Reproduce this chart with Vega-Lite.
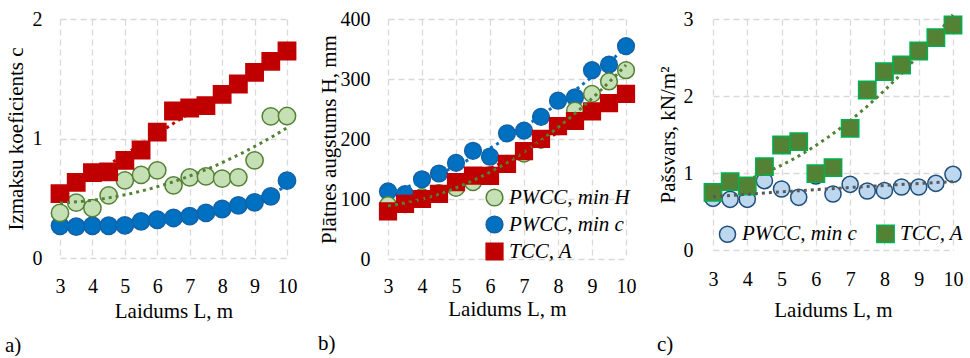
{
 "$schema": "https://vega.github.io/schema/vega-lite/v6.json",
 "padding": {"left": 5, "top": 8, "right": 0, "bottom": 0},
 "config": {
  "font": "Liberation Serif",
  "view": {"stroke": null},
  "axis": {"labelFont": "Liberation Serif", "titleFont": "Liberation Serif", "labelFontSize": 20, "titleFontSize": 21, "labelColor": "#000", "titleColor": "#000", "titleFontWeight": "normal", "gridColor": "#D9D9D9", "gridDash": [6, 4], "gridWidth": 1.3, "domain": false, "ticks": false, "labelOverlap": false, "labelFlush": false, "format": "d"},
  "legend": {"labelFont": "Liberation Serif", "labelFontStyle": "italic", "labelFontSize": 21, "labelColor": "#000", "labelOffset": 4, "rowPadding": 4, "padding": 0, "symbolStrokeWidth": 1.5, "labelLimit": 300},
  "title": {"font": "Liberation Serif", "fontSize": 21, "fontWeight": "normal", "color": "#000"},
  "concat": {"spacing": 19}
 },
 "resolve": {"scale": {"x": "independent", "y": "independent", "fill": "independent", "stroke": "independent", "shape": "independent", "size": "independent", "color": "independent"}, "legend": {"fill": "independent", "stroke": "independent", "shape": "independent", "size": "independent", "color": "independent"}},
 "datasets": {
  "a": [
   {"L": 3, "s": "PWCC, min c", "v": 0.27}, {"L": 3.5, "s": "PWCC, min c", "v": 0.262}, {"L": 4, "s": "PWCC, min c", "v": 0.27}, {"L": 4.5, "s": "PWCC, min c", "v": 0.27}, {"L": 5, "s": "PWCC, min c", "v": 0.273}, {"L": 5.5, "s": "PWCC, min c", "v": 0.307}, {"L": 6, "s": "PWCC, min c", "v": 0.32}, {"L": 6.5, "s": "PWCC, min c", "v": 0.335}, {"L": 7, "s": "PWCC, min c", "v": 0.351}, {"L": 7.5, "s": "PWCC, min c", "v": 0.377}, {"L": 8, "s": "PWCC, min c", "v": 0.41}, {"L": 8.5, "s": "PWCC, min c", "v": 0.44}, {"L": 9, "s": "PWCC, min c", "v": 0.466}, {"L": 9.5, "s": "PWCC, min c", "v": 0.516}, {"L": 10, "s": "PWCC, min c", "v": 0.647},
   {"L": 3, "s": "PWCC, min H", "v": 0.377}, {"L": 3.5, "s": "PWCC, min H", "v": 0.463}, {"L": 4, "s": "PWCC, min H", "v": 0.418}, {"L": 4.5, "s": "PWCC, min H", "v": 0.524}, {"L": 5, "s": "PWCC, min H", "v": 0.65}, {"L": 5.5, "s": "PWCC, min H", "v": 0.695}, {"L": 6, "s": "PWCC, min H", "v": 0.734}, {"L": 6.5, "s": "PWCC, min H", "v": 0.608}, {"L": 7, "s": "PWCC, min H", "v": 0.675}, {"L": 7.5, "s": "PWCC, min H", "v": 0.683}, {"L": 8, "s": "PWCC, min H", "v": 0.664}, {"L": 8.5, "s": "PWCC, min H", "v": 0.675}, {"L": 9, "s": "PWCC, min H", "v": 0.817}, {"L": 9.5, "s": "PWCC, min H", "v": 1.185}, {"L": 10, "s": "PWCC, min H", "v": 1.188},
   {"L": 3, "s": "TCC, A", "v": 0.538}, {"L": 3.5, "s": "TCC, A", "v": 0.633}, {"L": 4, "s": "TCC, A", "v": 0.714}, {"L": 4.5, "s": "TCC, A", "v": 0.72}, {"L": 5, "s": "TCC, A", "v": 0.817}, {"L": 5.5, "s": "TCC, A", "v": 0.904}, {"L": 6, "s": "TCC, A", "v": 1.054}, {"L": 6.5, "s": "TCC, A", "v": 1.23}, {"L": 7, "s": "TCC, A", "v": 1.255}, {"L": 7.5, "s": "TCC, A", "v": 1.275}, {"L": 8, "s": "TCC, A", "v": 1.37}, {"L": 8.5, "s": "TCC, A", "v": 1.456}, {"L": 9, "s": "TCC, A", "v": 1.554}, {"L": 9.5, "s": "TCC, A", "v": 1.646}, {"L": 10, "s": "TCC, A", "v": 1.732}
  ],
  "b": [
   {"L": 3, "s": "PWCC, min c", "v": 112.7}, {"L": 3.5, "s": "PWCC, min c", "v": 108}, {"L": 4, "s": "PWCC, min c", "v": 132.8}, {"L": 4.5, "s": "PWCC, min c", "v": 142.5}, {"L": 5, "s": "PWCC, min c", "v": 160.2}, {"L": 5.5, "s": "PWCC, min c", "v": 180.3}, {"L": 6, "s": "PWCC, min c", "v": 170.5}, {"L": 6.5, "s": "PWCC, min c", "v": 209.4}, {"L": 7, "s": "PWCC, min c", "v": 214}, {"L": 7.5, "s": "PWCC, min c", "v": 236.9}, {"L": 8, "s": "PWCC, min c", "v": 263.8}, {"L": 8.5, "s": "PWCC, min c", "v": 269.5}, {"L": 9, "s": "PWCC, min c", "v": 314.7}, {"L": 9.5, "s": "PWCC, min c", "v": 323.9}, {"L": 10, "s": "PWCC, min c", "v": 354.8},
   {"L": 3, "s": "PWCC, min H", "v": 89.8}, {"L": 3.5, "s": "PWCC, min H", "v": 91.6}, {"L": 4, "s": "PWCC, min H", "v": 103}, {"L": 4.5, "s": "PWCC, min H", "v": 110}, {"L": 5, "s": "PWCC, min H", "v": 118.5}, {"L": 5.5, "s": "PWCC, min H", "v": 128.2}, {"L": 6, "s": "PWCC, min H", "v": 140}, {"L": 6.5, "s": "PWCC, min H", "v": 158.5}, {"L": 7, "s": "PWCC, min H", "v": 175.7}, {"L": 7.5, "s": "PWCC, min H", "v": 198.6}, {"L": 8, "s": "PWCC, min H", "v": 221.5}, {"L": 8.5, "s": "PWCC, min H", "v": 247.2}, {"L": 9, "s": "PWCC, min H", "v": 275.2}, {"L": 9.5, "s": "PWCC, min H", "v": 295.9}, {"L": 10, "s": "PWCC, min H", "v": 314.7},
   {"L": 3, "s": "TCC, A", "v": 79.5}, {"L": 3.5, "s": "TCC, A", "v": 92}, {"L": 4, "s": "TCC, A", "v": 100}, {"L": 4.5, "s": "TCC, A", "v": 108.7}, {"L": 5, "s": "TCC, A", "v": 128.2}, {"L": 5.5, "s": "TCC, A", "v": 139}, {"L": 6, "s": "TCC, A", "v": 138.5}, {"L": 6.5, "s": "TCC, A", "v": 158.5}, {"L": 7, "s": "TCC, A", "v": 179.7}, {"L": 7.5, "s": "TCC, A", "v": 200.3}, {"L": 8, "s": "TCC, A", "v": 221.5}, {"L": 8.5, "s": "TCC, A", "v": 230}, {"L": 9, "s": "TCC, A", "v": 246}, {"L": 9.5, "s": "TCC, A", "v": 259.8}, {"L": 10, "s": "TCC, A", "v": 275.2}
  ],
  "c": [
   {"L": 3, "s": "PWCC, min c", "v": 0.671}, {"L": 3.5, "s": "PWCC, min c", "v": 0.658}, {"L": 4, "s": "PWCC, min c", "v": 0.658}, {"L": 4.5, "s": "PWCC, min c", "v": 0.9}, {"L": 5, "s": "PWCC, min c", "v": 0.792}, {"L": 5.5, "s": "PWCC, min c", "v": 0.684}, {"L": 6, "s": "PWCC, min c", "v": 0.961}, {"L": 6.5, "s": "PWCC, min c", "v": 0.727}, {"L": 7, "s": "PWCC, min c", "v": 0.853}, {"L": 7.5, "s": "PWCC, min c", "v": 0.766}, {"L": 8, "s": "PWCC, min c", "v": 0.771}, {"L": 8.5, "s": "PWCC, min c", "v": 0.818}, {"L": 9, "s": "PWCC, min c", "v": 0.818}, {"L": 9.5, "s": "PWCC, min c", "v": 0.866}, {"L": 10, "s": "PWCC, min c", "v": 0.983},
   {"L": 3, "s": "TCC, A", "v": 0.749}, {"L": 3.5, "s": "TCC, A", "v": 0.887}, {"L": 4, "s": "TCC, A", "v": 0.831}, {"L": 4.5, "s": "TCC, A", "v": 1.082}, {"L": 5, "s": "TCC, A", "v": 1.364}, {"L": 5.5, "s": "TCC, A", "v": 1.407}, {"L": 6, "s": "TCC, A", "v": 0.991}, {"L": 6.5, "s": "TCC, A", "v": 1.069}, {"L": 7, "s": "TCC, A", "v": 1.58}, {"L": 7.5, "s": "TCC, A", "v": 2.078}, {"L": 8, "s": "TCC, A", "v": 2.316}, {"L": 8.5, "s": "TCC, A", "v": 2.403}, {"L": 9, "s": "TCC, A", "v": 2.584}, {"L": 9.5, "s": "TCC, A", "v": 2.758}, {"L": 10, "s": "TCC, A", "v": 2.922}
  ]
 },
 "hconcat": [
  {
   "width": 227, "height": 239,
   "title": {"text": "a)", "orient": "bottom", "anchor": "start", "frame": "bounds", "offset": 14},
   "data": {"name": "a"},
   "layer": [
    {
     "mark": {"type": "point", "filled": true, "opacity": 1, "strokeWidth": 1.5},
     "encoding": {
      "x": {"field": "L", "type": "quantitative", "scale": {"domain": [3, 10], "nice": false}, "axis": {"values": [3, 4, 5, 6, 7, 8, 9, 10], "title": "Laidums L, m", "labelPadding": 18, "titlePadding": 4, "labelOverlap": false}},
      "y": {"field": "v", "type": "quantitative", "scale": {"domain": [0, 2], "nice": false}, "axis": {"values": [0, 1, 2], "title": "Izmaksu koeficients c", "labelPadding": 18, "titlePadding": 6}},
      "shape": {"field": "s", "type": "nominal", "scale": {"domain": ["PWCC, min H", "PWCC, min c", "TCC, A"], "range": ["circle", "circle", "square"]}, "legend": null},
      "fill": {"field": "s", "type": "nominal", "scale": {"domain": ["PWCC, min H", "PWCC, min c", "TCC, A"], "range": ["#C5E0B4", "#0070C0", "#C00000"]}, "legend": null},
      "stroke": {"field": "s", "type": "nominal", "scale": {"domain": ["PWCC, min H", "PWCC, min c", "TCC, A"], "range": ["#548235", "#1361A8", "#C00000"]}, "legend": null},
      "size": {"field": "s", "type": "nominal", "scale": {"domain": ["PWCC, min H", "PWCC, min c", "TCC, A"], "range": [300, 300, 420]}, "legend": null}
     }
    },
    {
     "transform": [{"regression": "v", "on": "L", "groupby": ["s"], "method": "poly", "order": 2, "extent": [3, 10]}],
     "mark": {"type": "line", "strokeDash": [3, 4], "strokeWidth": 3},
     "encoding": {
      "x": {"field": "L", "type": "quantitative", "axis": {"values": [3, 4, 5, 6, 7, 8, 9, 10], "title": "Laidums L, m", "labelPadding": 18, "titlePadding": 4, "labelOverlap": false}},
      "y": {"field": "v", "type": "quantitative", "axis": {"values": [0, 1, 2], "title": "Izmaksu koeficients c", "labelPadding": 18, "titlePadding": 6}},
      "color": {"field": "s", "type": "nominal", "scale": {"domain": ["PWCC, min H", "PWCC, min c", "TCC, A"], "range": ["#548235", "#0070C0", "#C00000"]}, "legend": null}
     }
    }
   ]
  },
  {
   "width": 238, "height": 240,
   "title": {"text": "b)", "orient": "bottom", "anchor": "start", "frame": "bounds", "offset": 14},
   "data": {"name": "b"},
   "layer": [
    {
     "mark": {"type": "point", "filled": true, "opacity": 1, "strokeWidth": 1.5},
     "encoding": {
      "x": {"field": "L", "type": "quantitative", "scale": {"domain": [3, 10], "nice": false}, "axis": {"values": [3, 4, 5, 6, 7, 8, 9, 10], "title": "Laidums L, m", "labelPadding": 17, "titlePadding": 2, "labelOverlap": false}},
      "y": {"field": "v", "type": "quantitative", "scale": {"domain": [0, 400], "nice": false}, "axis": {"values": [0, 100, 200, 300, 400], "title": "Plātnes augstums H, mm", "labelPadding": 18, "titlePadding": 1}},
      "shape": {"field": "s", "type": "nominal", "scale": {"domain": ["PWCC, min H", "PWCC, min c", "TCC, A"], "range": ["circle", "circle", "square"]}, "legend": {"title": null, "orient": "bottom-right", "offset": -4}},
      "fill": {"field": "s", "type": "nominal", "scale": {"domain": ["PWCC, min H", "PWCC, min c", "TCC, A"], "range": ["#C5E0B4", "#0070C0", "#C00000"]}, "legend": {"title": null, "orient": "bottom-right", "offset": -4}},
      "stroke": {"field": "s", "type": "nominal", "scale": {"domain": ["PWCC, min H", "PWCC, min c", "TCC, A"], "range": ["#548235", "#1361A8", "#C00000"]}, "legend": {"title": null, "orient": "bottom-right", "offset": -4}},
      "size": {"field": "s", "type": "nominal", "scale": {"domain": ["PWCC, min H", "PWCC, min c", "TCC, A"], "range": [280, 280, 330]}, "legend": {"title": null, "orient": "bottom-right", "offset": -4}}
     }
    },
    {
     "transform": [{"regression": "v", "on": "L", "groupby": ["s"], "method": "poly", "order": 2, "extent": [3, 10]}],
     "mark": {"type": "line", "strokeDash": [3, 4], "strokeWidth": 3},
     "encoding": {
      "x": {"field": "L", "type": "quantitative", "axis": {"values": [3, 4, 5, 6, 7, 8, 9, 10], "title": "Laidums L, m", "labelPadding": 17, "titlePadding": 2, "labelOverlap": false}},
      "y": {"field": "v", "type": "quantitative", "axis": {"values": [0, 100, 200, 300, 400], "title": "Plātnes augstums H, mm", "labelPadding": 18, "titlePadding": 1}},
      "color": {"field": "s", "type": "nominal", "scale": {"domain": ["PWCC, min H", "PWCC, min c", "TCC, A"], "range": ["#548235", "#0070C0", "#C00000"]}, "legend": null}
     }
    }
   ]
  },
  {
   "width": 240, "height": 231,
   "title": {"text": "c)", "orient": "bottom", "anchor": "start", "frame": "bounds", "offset": 14},
   "data": {"name": "c"},
   "layer": [
    {
     "mark": {"type": "point", "filled": true, "opacity": 1, "strokeWidth": 1.5},
     "encoding": {
      "x": {"field": "L", "type": "quantitative", "scale": {"domain": [3, 10], "nice": false}, "axis": {"values": [3, 4, 5, 6, 7, 8, 9, 10], "title": "Laidums L, m", "labelPadding": 19, "titlePadding": 10, "labelOverlap": false}},
      "y": {"field": "v", "type": "quantitative", "scale": {"domain": [0, 3], "nice": false}, "axis": {"values": [0, 1, 2, 3], "title": "Pašsvars, kN/m²", "labelPadding": 20, "titlePadding": 5}},
      "shape": {"field": "s", "type": "nominal", "scale": {"domain": ["PWCC, min c", "TCC, A"], "range": ["circle", "square"]}, "legend": {"title": null, "orient": "bottom-left", "direction": "horizontal", "offset": 4, "columnPadding": 16}},
      "fill": {"field": "s", "type": "nominal", "scale": {"domain": ["PWCC, min c", "TCC, A"], "range": ["#BDD7EE", "#548235"]}, "legend": {"title": null, "orient": "bottom-left", "direction": "horizontal", "offset": 4, "columnPadding": 16}},
      "stroke": {"field": "s", "type": "nominal", "scale": {"domain": ["PWCC, min c", "TCC, A"], "range": ["#1F4E79", "#00B050"]}, "legend": {"title": null, "orient": "bottom-left", "direction": "horizontal", "offset": 4, "columnPadding": 16}},
      "size": {"field": "s", "type": "nominal", "scale": {"domain": ["PWCC, min c", "TCC, A"], "range": [260, 300]}, "legend": {"title": null, "orient": "bottom-left", "direction": "horizontal", "offset": 4, "columnPadding": 16}}
     }
    },
    {
     "transform": [{"regression": "v", "on": "L", "groupby": ["s"], "method": "poly", "order": 2, "extent": [3, 10]}],
     "mark": {"type": "line", "strokeDash": [3, 4], "strokeWidth": 3},
     "encoding": {
      "x": {"field": "L", "type": "quantitative", "axis": {"values": [3, 4, 5, 6, 7, 8, 9, 10], "title": "Laidums L, m", "labelPadding": 19, "titlePadding": 10, "labelOverlap": false}},
      "y": {"field": "v", "type": "quantitative", "axis": {"values": [0, 1, 2, 3], "title": "Pašsvars, kN/m²", "labelPadding": 20, "titlePadding": 5}},
      "color": {"field": "s", "type": "nominal", "scale": {"domain": ["PWCC, min c", "TCC, A"], "range": ["#595959", "#548235"]}, "legend": null}
     }
    }
   ]
  }
 ]
}
